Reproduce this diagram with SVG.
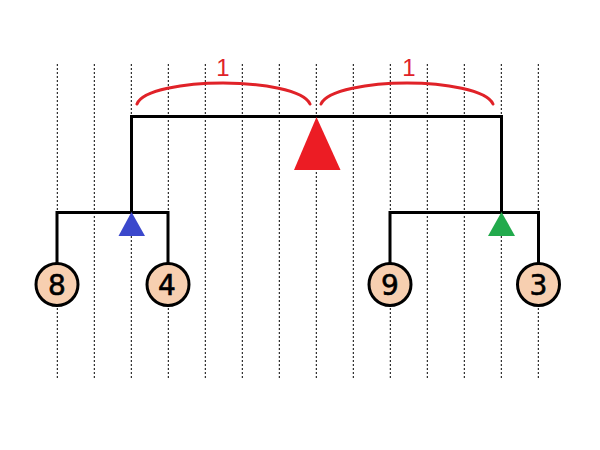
<svg xmlns="http://www.w3.org/2000/svg" width="600" height="450" viewBox="0 0 600 450">
<style>
.grid{stroke:#000;stroke-width:1;stroke-dasharray:2 2;fill:none}
.edge{stroke:#000;stroke-width:3;fill:none;stroke-linejoin:miter;stroke-linecap:square}
.arc{stroke:#e02228;stroke-width:3;fill:none;stroke-linecap:round}
.lbl{font-family:"Liberation Sans",Arial,sans-serif;font-size:24px;fill:#e02228;text-anchor:middle}
.node circle{fill:#f7cfb0;stroke:#000;stroke-width:3}
.node text{font-family:"DejaVu Sans","Liberation Sans",sans-serif;font-size:28px;fill:#000;stroke:#000;stroke-width:0.6;text-anchor:middle}
</style>
<rect width="600" height="450" fill="#fff"/>
<g id="grid">
<line class="grid" x1="57.3" y1="64" x2="57.3" y2="380"/>
<line class="grid" x1="94.3" y1="64" x2="94.3" y2="380"/>
<line class="grid" x1="131.3" y1="64" x2="131.3" y2="380"/>
<line class="grid" x1="168.3" y1="64" x2="168.3" y2="380"/>
<line class="grid" x1="205.3" y1="64" x2="205.3" y2="380"/>
<line class="grid" x1="242.3" y1="64" x2="242.3" y2="380"/>
<line class="grid" x1="279.3" y1="64" x2="279.3" y2="380"/>
<line class="grid" x1="316.3" y1="64" x2="316.3" y2="380"/>
<line class="grid" x1="353.3" y1="64" x2="353.3" y2="380"/>
<line class="grid" x1="390.3" y1="64" x2="390.3" y2="380"/>
<line class="grid" x1="427.3" y1="64" x2="427.3" y2="380"/>
<line class="grid" x1="464.3" y1="64" x2="464.3" y2="380"/>
<line class="grid" x1="501.3" y1="64" x2="501.3" y2="380"/>
<line class="grid" x1="538.3" y1="64" x2="538.3" y2="380"/>
</g>
<g id="connectors">
<path class="edge" d="M131.5,212 V116.5 H501.5 V212"/>
<path class="edge" d="M57,262 V212.5 H168 V262"/>
<path class="edge" d="M390,262 V212.5 H538.5 V262"/>
</g>
<g id="arcs">
<path class="arc" d="M137,104 C142,90 185,83 223,83 C261,83 304,90 310,104"/>
<path class="arc" d="M321,104 C327,90 370,83 407,83 C444,83 487,90 493,104"/>
<text class="lbl" x="223" y="76">1</text>
<text class="lbl" x="409" y="76">1</text>
</g>
<g id="fulcrums">
<polygon points="316.5,117 294,170 340.5,170" fill="#ec1c24"/>
<polygon points="131.5,212 118.5,236 145,236" fill="#3b48cc"/>
<polygon points="501.5,212 488,236 515,236" fill="#22aa4c"/>
</g>
<g id="node-8" class="node"><circle cx="57" cy="284.5" r="21"/><text x="57" y="294.5">8</text></g>
<g id="node-4" class="node"><circle cx="168" cy="284.5" r="21"/><text x="167" y="294.5">4</text></g>
<g id="node-9" class="node"><circle cx="390" cy="284.5" r="21"/><text x="390" y="294.5">9</text></g>
<g id="node-3" class="node"><circle cx="538.5" cy="284.5" r="21"/><text x="538.5" y="294.5">3</text></g>
</svg>
